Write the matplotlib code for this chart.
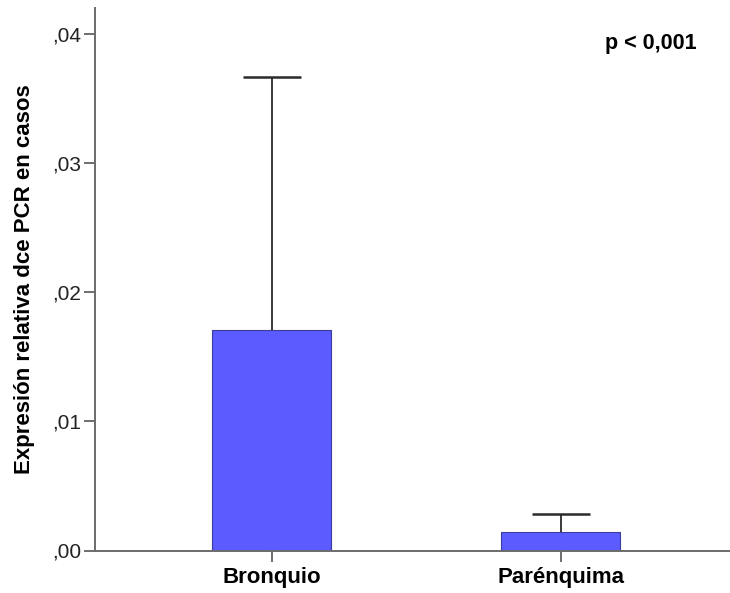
import matplotlib
matplotlib.use('Agg')
import matplotlib.pyplot as plt
from matplotlib.ticker import FuncFormatter

# datos (media y limite superior del error)
categorias = ['Bronquio', 'Parénquima']
medias = [0.01709, 0.00143]
limite_sup = [0.0367, 0.00285]
ticks_y = [0.00, 0.01, 0.02, 0.03, 0.04]

plt.rcParams['font.family'] = ['Liberation Sans', 'DejaVu Sans']

fig = plt.figure(figsize=(7.3, 5.93), dpi=100)
ax = fig.add_axes([95 / 730, 1 - 550.5 / 593, 635 / 730, 542.5 / 593])

pos = list(range(len(categorias)))
ancho = 0.412

ax.bar(pos, medias, width=ancho, color='#5b5bff', edgecolor='#3c3c9c',
       linewidth=0.8, zorder=2)
# barra de error solo hacia arriba
ax.vlines(pos, medias, limite_sup, color='#2b2b2b', linewidth=1.3, zorder=3)
ax.hlines(limite_sup, [p - 0.1 for p in pos], [p + 0.1 for p in pos],
          color='#2b2b2b', linewidth=1.8, zorder=3)

ax.set_xlim(-0.612, 1.585)
ax.set_ylim(0, 0.04205)
ax.set_xticks(pos)
ax.set_xticklabels(categorias, fontsize=16, fontweight='bold')
ax.set_yticks(ticks_y)
ax.yaxis.set_major_formatter(FuncFormatter(lambda v, p: ('%.2f' % v)[1:].replace('.', ',')))
ax.tick_params(axis='y', labelsize=15, labelcolor='#222222', length=8, width=1.2,
               color='#555555', pad=2)
ax.tick_params(axis='x', length=8, width=1.2, color='#555555', pad=4)

for lado in ['top', 'right']:
    ax.spines[lado].set_visible(False)
for lado in ['left', 'bottom']:
    ax.spines[lado].set_color('#6b6b6b')
    ax.spines[lado].set_linewidth(1.4)

ax.set_ylabel('Expresión relativa dce PCR en casos', fontsize=16,
              fontweight='bold', labelpad=12)
ax.text(651 / 730, 1 - 44 / 593, 'p < 0,001', transform=fig.transFigure,
        ha='center', va='center', fontsize=15.5, fontweight='bold')

fig.savefig('out.png', dpi=100)
